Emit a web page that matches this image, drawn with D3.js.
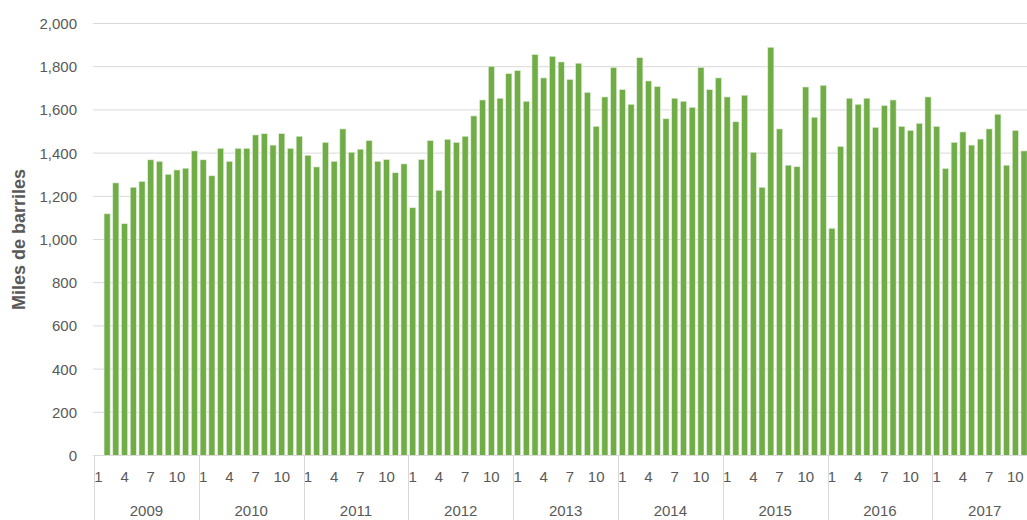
<!DOCTYPE html>
<html>
<head>
<meta charset="utf-8">
<script src="https://cdn.jsdelivr.net/npm/d3@7"></script>
<style>
  body { margin: 0; background: #fff; }
  svg { display: block; font-family: "Liberation Sans", Arial, sans-serif; }
</style>
</head>
<body>
<script>
var width = 1027,
    height = 520;

// data: monthly values, Jan 2009 .. Nov 2017 (Jan 2009 has no bar)
var years = [2009, 2010, 2011, 2012, 2013, 2014, 2015, 2016, 2017];
var monthLabels = [1, 4, 7, 10];
var yTicks = [0, 200, 400, 600, 800, 1000, 1200, 1400, 1600, 1800, 2000];

var v2009 = [null, 1119, 1262, 1073, 1242, 1269, 1369, 1362, 1302, 1322, 1330, 1410];
var v2010 = [1369, 1295, 1422, 1362, 1422, 1422, 1484, 1490, 1437, 1490, 1422, 1478];
var v2011 = [1390, 1336, 1450, 1362, 1512, 1404, 1418, 1458, 1362, 1370, 1309, 1350];
var v2012 = [1147, 1370, 1458, 1228, 1464, 1450, 1478, 1572, 1646, 1802, 1654, 1768];
var v2013 = [1782, 1640, 1856, 1748, 1848, 1822, 1741, 1816, 1681, 1524, 1660, 1796];
var v2014 = [1694, 1626, 1842, 1734, 1708, 1559, 1654, 1640, 1612, 1796, 1694, 1748];
var v2015 = [1660, 1545, 1668, 1404, 1242, 1890, 1512, 1344, 1337, 1706, 1566, 1714];
var v2016 = [1052, 1431, 1654, 1626, 1654, 1519, 1620, 1646, 1524, 1505, 1538, 1660];
var v2017 = [1524, 1329, 1450, 1498, 1437, 1465, 1512, 1580, 1344, 1505, 1410];

var series = [v2009, v2010, v2011, v2012, v2013, v2014, v2015, v2016, v2017];

var data = [];
series.forEach(function(vals, i) {
  vals.forEach(function(v, m) {
    data.push({ year: years[i], month: m + 1, key: years[i] + "-" + (m + 1), value: v });
  });
});

var x0 = 94, step = 8.733;
var x = d3.scaleBand()
    .domain(data.map(function(d) { return d.key; }))
    .range([x0, x0 + data.length * step])
    .paddingInner(0.3)
    .paddingOuter(0.15);

var y = d3.scaleLinear()
    .domain([0, 2000])
    .range([455.5, 23.5]);

var svg = d3.select("body").append("svg")
    .attr("width", width)
    .attr("height", height);

// grid
svg.append("g").selectAll("line")
    .data(yTicks)
  .enter().append("line")
    .attr("x1", 93)
    .attr("x2", width)
    .attr("y1", function(d) { return y(d); })
    .attr("y2", function(d) { return y(d); })
    .attr("stroke", "#d9d9d9")
    .attr("stroke-width", 1);

// y labels
svg.append("g").selectAll("text")
    .data(yTicks)
  .enter().append("text")
    .attr("x", 77)
    .attr("y", function(d) { return y(d); })
    .attr("dy", "0.36em")
    .attr("text-anchor", "end")
    .attr("fill", "#595959")
    .style("font-size", "15px")
    .text(function(d) { return d3.format(",")(d); });

svg.append("text")
    .attr("transform", "translate(25," + y(1000) + ") rotate(-90)")
    .attr("text-anchor", "middle")
    .attr("fill", "#595959")
    .style("font-size", "18px")
    .style("font-weight", "bold")
    .text("Miles de barriles");

// bars
svg.append("g").selectAll("rect")
    .data(data.filter(function(d) { return d.value != null; }))
  .enter().append("rect")
    .attr("x", function(d) { return x(d.key); })
    .attr("width", x.bandwidth())
    .attr("y", function(d) { return y(d.value); })
    .attr("height", function(d) { return y(0) - y(d.value); })
    .attr("fill", "#70ad47")
    .attr("stroke", "#e2efd9")
    .attr("stroke-width", 0.6);

// x axis: baseline, month labels, year groups
svg.append("line")
    .attr("x1", 93).attr("x2", width)
    .attr("y1", y(0)).attr("y2", y(0))
    .attr("stroke", "#d9d9d9");

svg.append("g").selectAll("text")
    .data(data.filter(function(d) { return monthLabels.indexOf(d.month) >= 0; }))
  .enter().append("text")
    .attr("x", function(d) { return x(d.key) + x.bandwidth() / 2; })
    .attr("y", 482)
    .attr("text-anchor", "middle")
    .attr("fill", "#595959")
    .style("font-size", "15px")
    .text(function(d) { return d.month; });

var yearStart = function(yr) { return x(yr + "-1") - x.step() * x.paddingInner() / 2; };

svg.append("g").selectAll("line")
    .data(years)
  .enter().append("line")
    .attr("x1", function(d) { return Math.round(yearStart(d)) + 0.5; })
    .attr("x2", function(d) { return Math.round(yearStart(d)) + 0.5; })
    .attr("y1", y(0))
    .attr("y2", height)
    .attr("stroke", "#d9d9d9");

svg.append("g").selectAll("text")
    .data(years)
  .enter().append("text")
    .attr("x", function(d) { return yearStart(d) + step * 6; })
    .attr("y", 516)
    .attr("text-anchor", "middle")
    .attr("fill", "#595959")
    .style("font-size", "15px")
    .text(function(d) { return d; });
</script>
</body>
</html>
